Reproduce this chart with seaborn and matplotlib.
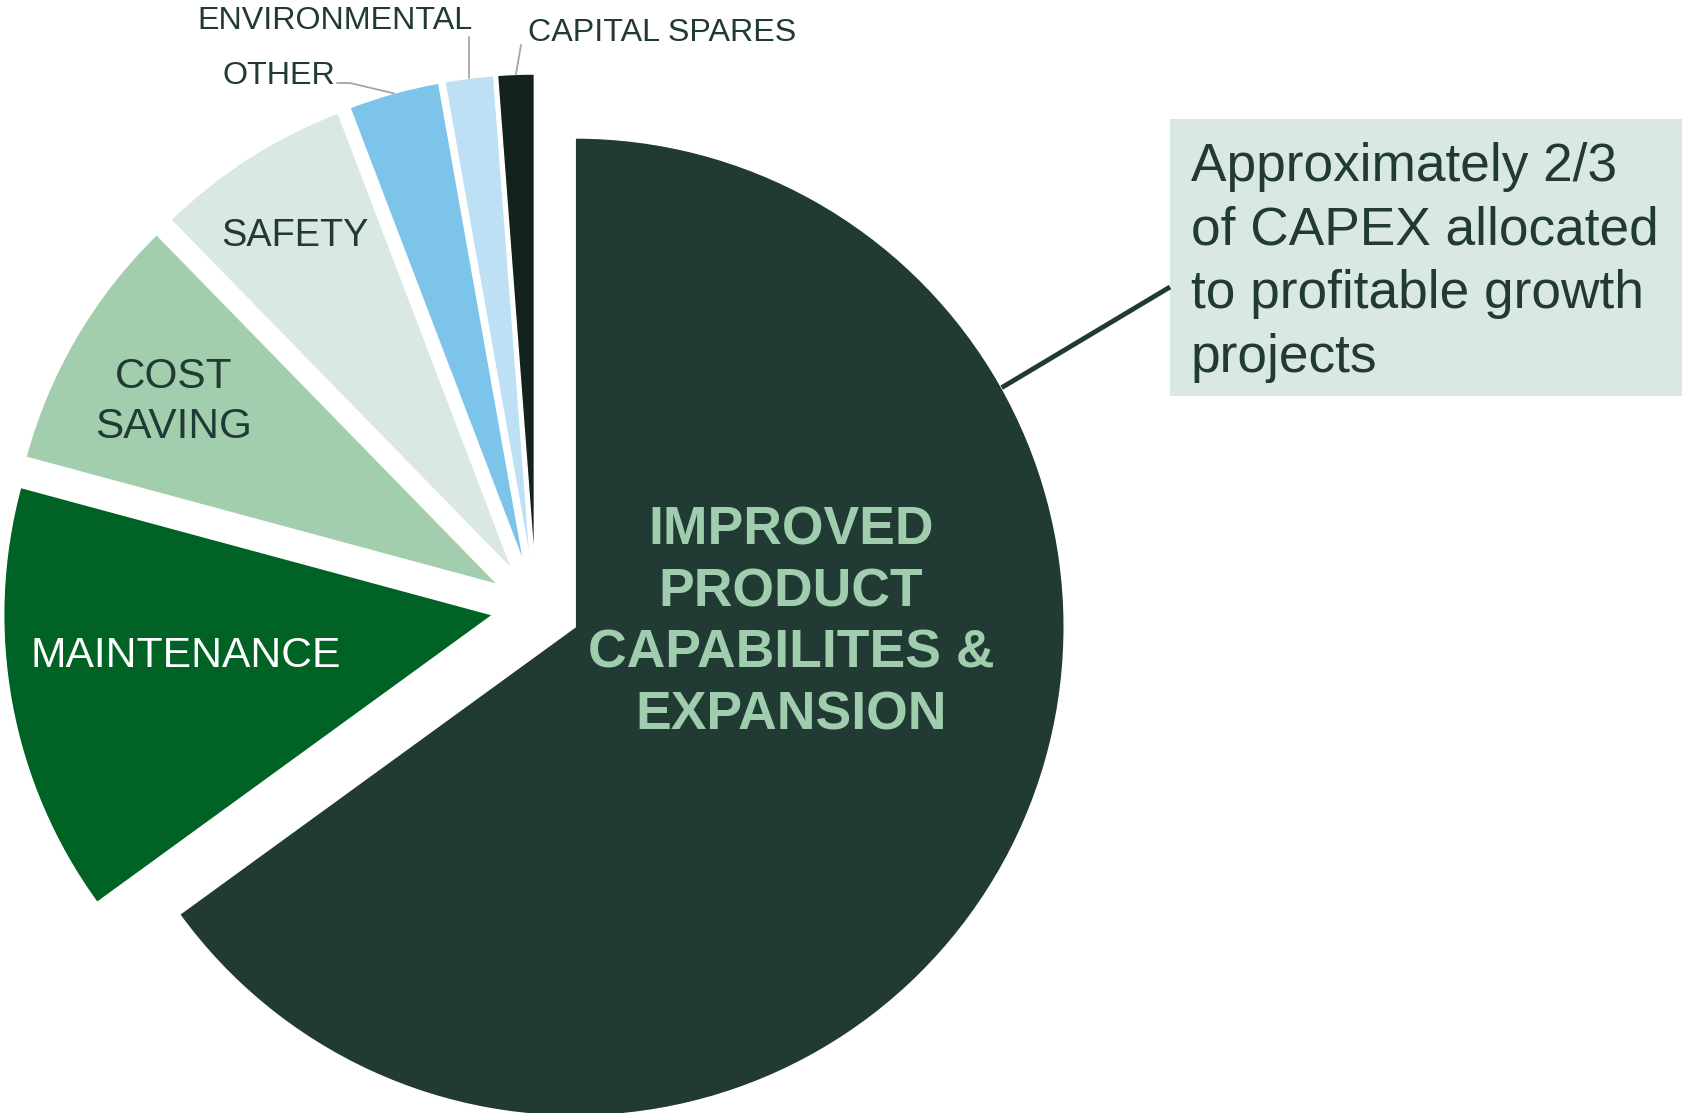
import numpy as np
import matplotlib
matplotlib.use("Agg")
import matplotlib.pyplot as plt
from matplotlib.patches import Rectangle
import seaborn as sns

# capex split (percent of total)
categories = ["IMPROVED\nPRODUCT\nCAPABILITES &\nEXPANSION", "MAINTENANCE",
              "COST\nSAVING", "SAFETY", "OTHER", "ENVIRONMENTAL", "CAPITAL SPARES"]
shares = [65.0, 14.2, 8.5, 6.5, 3.0, 1.6, 1.2]
slice_colors = ["#213a33", "#006325", "#a2ceae", "#d9e8e3", "#7dc4ea", "#bee0f4", "#14221e"]
note_text = "Approximately 2/3\nof CAPEX allocated\nto profitable growth\nprojects"

sns.set_style("white")
plt.rcParams["font.family"] = ["Liberation Sans", "DejaVu Sans"]

DARK = "#213a33"
GREY = "#a6a6a6"
W, H = 1682, 1113

fig = plt.figure(figsize=(W / 100, H / 100), dpi=100)
ax = fig.add_axes([0, 0, 1, 1])

# axes in pixel units so the pie sits where it does on the slide
center = (536, 506)
radius = 489
gap = 44
wedges, _ = ax.pie(shares, colors=sns.color_palette(slice_colors), startangle=90,
                   counterclock=False, center=center, radius=radius,
                   explode=[gap] * len(shares),
                   wedgeprops=dict(linewidth=1, edgecolor="white"))
ax.set_xlim(0, W)
ax.set_ylim(0, H)
ax.set_aspect("auto")
ax.axis("off")


def arc_point(w, ang=None):
    if ang is None:
        ang = 0.5 * (w.theta1 + w.theta2)
    a = np.deg2rad(ang)
    cx, cy = w.center
    return cx + w.r * np.cos(a), cy + w.r * np.sin(a)


# labels inside slices
ax.text(791, 490, categories[0], ha="center", va="center", fontsize=38.5,
        fontweight="bold", color="#a0cdad", linespacing=1.3)
ax.text(186, 457, categories[1], ha="center", va="center", fontsize=30.7, color="white")
ax.text(174, 711, categories[2], ha="center", va="center", fontsize=30.5,
        color=DARK, linespacing=1.35)
ax.text(295, 877, categories[3], ha="center", va="center", fontsize=27.3, color=DARK)

# small slices get outside labels with leader lines
ax.text(279, 1037, categories[4], ha="center", va="center", fontsize=23.2, color=DARK)
px, py = arc_point(wedges[4])
ax.plot([337, 350, px], [1030, 1030, py], color=GREY, lw=1.3)

ax.text(335, 1092, categories[5], ha="center", va="center", fontsize=23.2, color=DARK)
px, py = arc_point(wedges[5])
ax.plot([px, px], [1076, py], color=GREY, lw=1.3)

ax.text(662, 1080, categories[6], ha="center", va="center", fontsize=23.2, color=DARK)
px, py = arc_point(wedges[6])
ax.plot([521, px], [1068, py], color=GREY, lw=1.3)

# callout box
ax.add_patch(Rectangle((1170, 717), W - 1170, 277, facecolor="#d9e8e3", edgecolor="none"))
ax.text(1191, 971, note_text, ha="left", va="top", fontsize=38.3, color=DARK,
        linespacing=1.35)
px, py = arc_point(wedges[0], 29.3)
ax.plot([px, 1170], [py, 826], color=DARK, lw=3.5, solid_capstyle="butt")

fig.savefig("out.png", dpi=100)
